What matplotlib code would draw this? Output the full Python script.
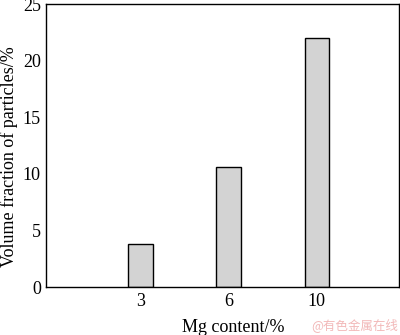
import matplotlib
matplotlib.use("Agg")
from matplotlib import pyplot as plt

# Mg content categories and volume fraction of particles
mg_labels = ["3", "6", "10"]
volume_fraction = [3.8, 10.6, 22.0]
positions = [1, 2, 3]

plt.rcParams["font.family"] = ["Liberation Serif", "DejaVu Serif"]

fig = plt.figure(figsize=(4, 3.35), dpi=100)
ax = fig.add_axes([0.116, 0.143, 0.881, 0.845])

ax.bar(positions, volume_fraction, width=0.28, color="#d3d3d3",
       edgecolor="black", linewidth=1.0)

ax.set_xlim(-0.07, 3.93)
ax.set_ylim(0, 25)
ax.set_xticks(positions)
ax.set_xticklabels(mg_labels)
ax.set_yticks([0, 5, 10, 15, 20, 25])
ax.tick_params(length=0, labelsize=13, pad=4)
for s in ax.spines.values():
    s.set_linewidth(1.0)

ax.set_xlabel("Mg content/%", fontsize=13)
ax.xaxis.set_label_coords(0.53, -0.112)
ax.xaxis.label.set_va("top")
ax.set_ylabel("Volume fraction of particles/%", fontsize=13)
ax.yaxis.set_label_coords(-0.08, 0.46)

# watermark
fig.text(0.995, 0.008, "@有色金属在线", color="#f2b8b8", fontsize=9,
         ha="right", va="bottom",
         family=["Noto Sans CJK SC", "DejaVu Sans"])

fig.savefig("out.png", dpi=100)
